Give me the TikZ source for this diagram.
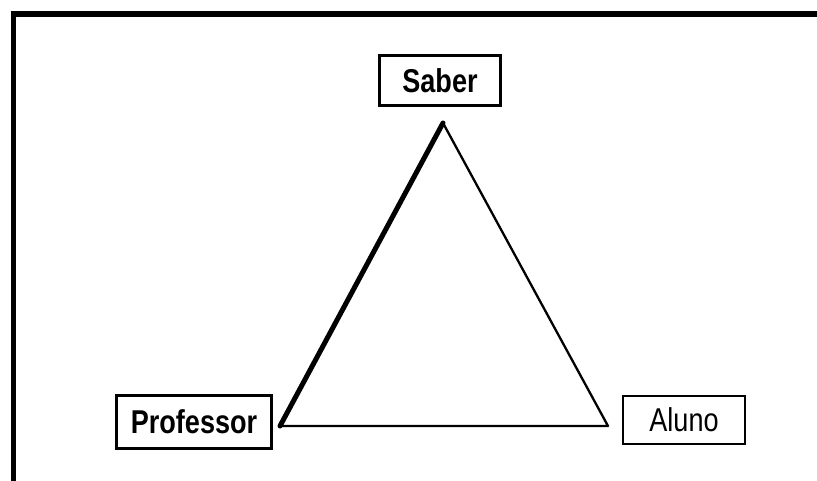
\documentclass[tikz,border=0pt]{standalone}
\usepackage{fontspec}
\newfontfamily\narrowfont[FakeStretch=0.82]{Liberation Sans}
\begin{document}
\begin{tikzpicture}[
    x=1pt, y=-1pt,
    box/.style={draw,line width=3.2pt,minimum width=121pt,minimum height=50pt,inner sep=0pt,font=\narrowfont\fontsize{33}{33}\selectfont},
    side/.style={line width=2.3pt,line join=round},
    thickside/.style={line width=5pt,line cap=round}
]
\useasboundingbox (0,0) rectangle (817,481);
\fill[white] (0,0) rectangle (817,481);
% frame
\fill (11,11) rectangle (817,17);
\fill (11,11) rectangle (16,481);
% nodes
\node[box] (saber) at (440,80.5) {\bfseries Saber};
\node[box,minimum width=155pt,minimum height=53pt] (prof) at (194,422) {\bfseries Professor};
\node[box,line width=2pt,minimum width=122pt,minimum height=48pt] (aluno) at (684,420) {Aluno};
% triangle corners
\coordinate (top) at (443,123);
\coordinate (left) at (280,426);
\coordinate (right) at (608,426);
\draw[side] (top) -- (right) -- (left);
\draw[thickside] (left) -- (top);
\end{tikzpicture}
\end{document}
